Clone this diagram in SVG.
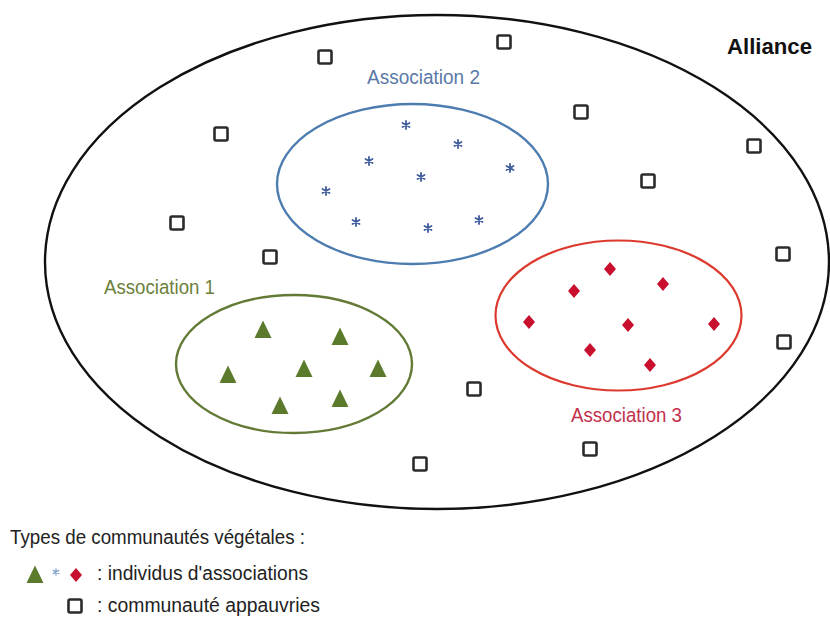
<svg xmlns="http://www.w3.org/2000/svg" xmlns:xlink="http://www.w3.org/1999/xlink" width="830" height="618" viewBox="0 0 830 618">
  <style>
    .lbl { font-family: "Liberation Sans", Arial, sans-serif; font-size: 20.5px; }
    .title { font-family: "Liberation Sans", Arial, sans-serif; font-size: 22px; font-weight: bold; fill: #111; }
    .legend { font-family: "Liberation Sans", Arial, sans-serif; font-size: 20px; fill: #222; }
    .sq { fill: #fff; stroke: #2b2b2b; stroke-width: 2.6; }
    .tri { fill: #5b7a2c; }
    .dia { fill: #c8102e; }
    .star { stroke: #3f5c9c; stroke-width: 1.8; stroke-linecap: round; fill: none; }
    .star-light { stroke: #86a3cc; stroke-width: 1.6; stroke-linecap: round; fill: none; }
  </style>
  <defs>
    <rect id="sq" class="sq" x="-6.5" y="-6.5" width="13" height="13" rx="1.5"/>
    <path id="tri" class="tri" d="M0,-9.5 L8.5,8 L-8.5,8 Z"/>
    <path id="dia" class="dia" d="M0,-7 L6,0 L0,7 L-6,0 Z"/>
    <path id="star-arms" d="M0,-4 L0,4 M-3.5,-2 L3.5,2 M-3.5,2 L3.5,-2"/>
  </defs>
  <rect width="830" height="618" fill="#fff"/>

  <!-- Alliance boundary -->
  <g id="alliance">
    <ellipse cx="437" cy="262" rx="392" ry="247" fill="none" stroke="#111" stroke-width="2.4"/>
    <text class="title" x="727" y="54" textLength="85" lengthAdjust="spacingAndGlyphs">Alliance</text>
  </g>

  <!-- Association 1 (green triangles) -->
  <g id="association1">
    <ellipse cx="294" cy="364" rx="118" ry="69" fill="none" stroke="#627a35" stroke-width="2.4"/>
    <text class="lbl" x="104" y="294" textLength="111" lengthAdjust="spacingAndGlyphs" fill="#6b7f3a">Association 1</text>
    <use xlink:href="#tri" x="263" y="330"/>
    <use xlink:href="#tri" x="340" y="337"/>
    <use xlink:href="#tri" x="228" y="375"/>
    <use xlink:href="#tri" x="304" y="369"/>
    <use xlink:href="#tri" x="378" y="369"/>
    <use xlink:href="#tri" x="280" y="406"/>
    <use xlink:href="#tri" x="340" y="399"/>
  </g>

  <!-- Association 2 (blue asterisks) -->
  <g id="association2">
    <ellipse cx="412.5" cy="184" rx="135.5" ry="80" fill="none" stroke="#4d7cb0" stroke-width="2.4"/>
    <text class="lbl" x="367" y="84" textLength="113" lengthAdjust="spacingAndGlyphs" fill="#5a79a6">Association 2</text>
    <g class="star">
      <use xlink:href="#star-arms" x="406" y="125"/>
      <use xlink:href="#star-arms" x="458" y="144"/>
      <use xlink:href="#star-arms" x="369" y="161"/>
      <use xlink:href="#star-arms" x="421" y="177"/>
      <use xlink:href="#star-arms" x="510" y="168"/>
      <use xlink:href="#star-arms" x="326" y="191"/>
      <use xlink:href="#star-arms" x="356" y="222"/>
      <use xlink:href="#star-arms" x="428" y="228"/>
      <use xlink:href="#star-arms" x="479" y="220"/>
    </g>
  </g>

  <!-- Association 3 (red diamonds) -->
  <g id="association3">
    <ellipse cx="618.5" cy="315.5" rx="123" ry="75" fill="none" stroke="#dc3a2e" stroke-width="2.2"/>
    <text class="lbl" x="571" y="422" textLength="111" lengthAdjust="spacingAndGlyphs" fill="#c2304b">Association 3</text>
    <use xlink:href="#dia" x="610" y="269"/>
    <use xlink:href="#dia" x="574" y="291"/>
    <use xlink:href="#dia" x="663" y="284"/>
    <use xlink:href="#dia" x="529" y="322"/>
    <use xlink:href="#dia" x="628" y="325"/>
    <use xlink:href="#dia" x="714" y="324"/>
    <use xlink:href="#dia" x="590" y="350"/>
    <use xlink:href="#dia" x="650" y="365"/>
  </g>

  <!-- Impoverished communities scattered inside the alliance -->
  <g id="impoverished">
    <use xlink:href="#sq" x="325" y="57"/>
    <use xlink:href="#sq" x="504" y="42"/>
    <use xlink:href="#sq" x="221" y="134"/>
    <use xlink:href="#sq" x="581" y="112"/>
    <use xlink:href="#sq" x="754" y="146"/>
    <use xlink:href="#sq" x="648" y="181"/>
    <use xlink:href="#sq" x="177" y="223"/>
    <use xlink:href="#sq" x="270" y="257"/>
    <use xlink:href="#sq" x="783" y="254"/>
    <use xlink:href="#sq" x="784" y="342"/>
    <use xlink:href="#sq" x="474" y="389"/>
    <use xlink:href="#sq" x="590" y="449"/>
    <use xlink:href="#sq" x="420" y="464"/>
  </g>

  <!-- Legend -->
  <g id="legend">
    <text class="legend" x="10" y="544" textLength="295" lengthAdjust="spacingAndGlyphs">Types de communautés végétales :</text>
    <use xlink:href="#tri" x="35" y="575"/>
    <g class="star-light" transform="translate(56,572) scale(0.8)"><use xlink:href="#star-arms"/></g>
    <use xlink:href="#dia" x="76" y="575"/>
    <text class="legend" x="97" y="580" textLength="211" lengthAdjust="spacingAndGlyphs">: individus d'associations</text>
    <use xlink:href="#sq" x="75" y="606"/>
    <text class="legend" x="97" y="612" textLength="223" lengthAdjust="spacingAndGlyphs">: communauté appauvries</text>
  </g>
</svg>
